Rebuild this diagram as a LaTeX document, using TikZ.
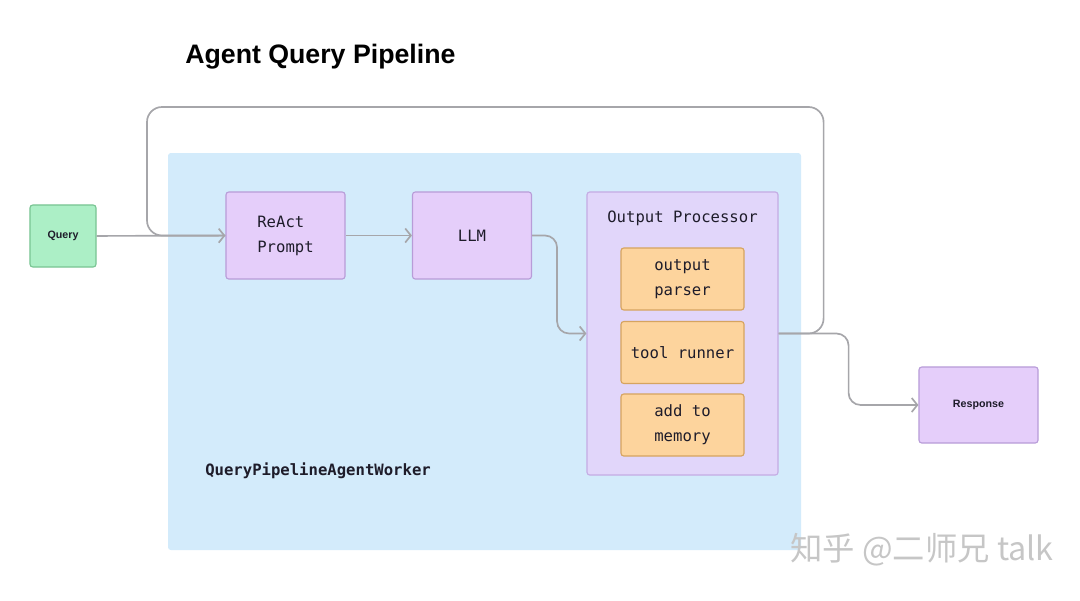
\documentclass[tikz,border=0pt]{standalone}
\usepackage{fontspec}
\setmainfont{Liberation Sans}
\newfontfamily\monofont{DejaVu Sans Mono}
\newfontfamily\cjkfont{Noto Sans CJK SC}
\usetikzlibrary{arrows.meta,positioning}
\definecolor{ink}{RGB}{30,28,42}
\definecolor{wire}{RGB}{166,166,170}
\definecolor{panel}{RGB}{211,235,251}
\definecolor{qfill}{RGB}{172,239,198}
\definecolor{qline}{RGB}{120,196,146}
\definecolor{lavfill}{RGB}{229,206,250}
\definecolor{lavline}{RGB}{184,156,216}
\definecolor{opfill}{RGB}{225,214,250}
\definecolor{opline}{RGB}{196,172,228}
\definecolor{orfill}{RGB}{253,212,157}
\definecolor{orline}{RGB}{214,164,96}

\begin{document}
\begin{tikzpicture}[x=0.025cm,y=-0.025cm]
                \tikzstyle{every node}+=[inner sep=0pt, text=ink]
                \tikzstyle{box}=[draw, line width=0.8pt, rounded corners=2pt, font=\monofont\fontsize{11.1}{17.7}\selectfont]
                \tikzstyle{stage}=[box, draw=lavline, fill=lavfill, minimum width=2.975cm, minimum height=2.175cm]
                \tikzstyle{tool}=[box, draw=orline, fill=orfill, align=center, minimum width=3.075cm, minimum height=1.55cm]
                \tikzstyle{link}=[draw=wire, line width=1.2pt, -{Straight Barb[length=4pt,width=10pt]}]
                \useasboundingbox (0,0) rectangle (1080,600);
                \node [anchor=base west, text=black, font=\bfseries\fontsize{19}{22}\selectfont] (title) at (185,63) {Agent Query Pipeline};
                \fill [panel, rounded corners=2pt] (168,153) rectangle (801,550);
                \node [anchor=base west, font=\monofont\bfseries\fontsize{11.1}{14}\selectfont] (worker) at (205,475) {QueryPipelineAgentWorker};
                \node [draw=qline, fill=qfill, line width=0.8pt, rounded corners=2pt, minimum width=1.65cm, minimum height=1.55cm, font=\bfseries\fontsize{7.6}{9}\selectfont] (query) at (63,236) {Query};
                \node [stage, align=left] (react) at (285.5,235.5) {ReAct\\Prompt};
                \node [stage] (llm) at (472,235.5) {LLM};
                \node [box, draw=opline, fill=opfill, minimum width=4.775cm, minimum height=7.075cm] (op) at (682.5,333.5) {};
                \node [anchor=base, font=\monofont\fontsize{11.1}{14}\selectfont] (optitle) at (682.5,222) {Output Processor};
                \node [tool] (parser) at (682.5,279) {output\\parser};
                \node [tool] (runner) at (682.5,352.5) {tool runner};
                \node [tool] (memory) at (682.5,425) {add to\\memory};
                \node [stage, minimum height=1.9cm, font=\bfseries\fontsize{7.6}{9}\selectfont] (resp) at (978.5,405) {Response};
                % loop back from the output processor
                \draw [draw=wire, line width=1.2pt, rounded corners=0.375cm] (op.east) -- ++(45,0) |- (147,107) |- (react.west);
                \draw [link] (query) -- (react);
                \draw [link] (react) -- (llm);
                \draw [link, rounded corners=0.3cm] (llm.east) -- ++(25,0) |- (op.west);
                \draw [link, rounded corners=0.3cm] (op.east) -- ++(70,0) |- (resp.west);
                \node [anchor=base west, text=gray!45, font=\cjkfont\fontsize{23}{27}\selectfont] (mark) at (790,560) {知乎 @二师兄 talk};
            \end{tikzpicture}
\end{document}
